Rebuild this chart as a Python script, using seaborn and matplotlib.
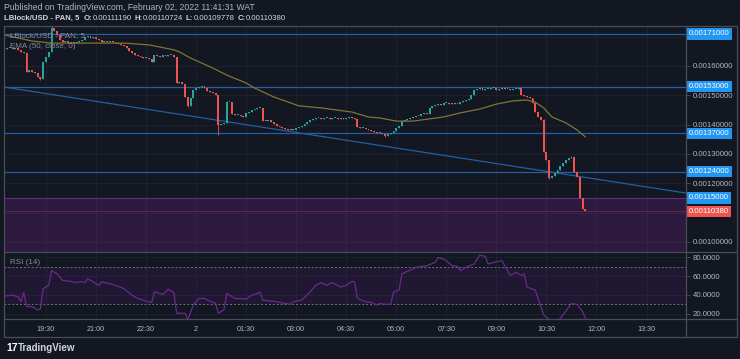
import numpy as np
import matplotlib
matplotlib.use("Agg")
import matplotlib.pyplot as plt
from matplotlib.lines import Line2D
from matplotlib.transforms import blended_transform_factory
import seaborn as sns

# 5-minute LBlock/USD candles from 18:15 to 11:40, closes in units of 1e-6
close_e6 = [
    1658, 1661, 1661, 1658, 1661, 1655, 1648, 1644, 1580, 1586,
    1580, 1576, 1562, 1556, 1614, 1631, 1648, 1730, 1719, 1706,
    1689, 1682, 1685, 1678, 1682, 1678, 1682, 1685, 1689, 1699,
    1702, 1695, 1699, 1692, 1689, 1682, 1685, 1682, 1685, 1682,
    1678, 1675, 1672, 1668, 1661, 1651, 1644, 1637, 1634, 1631,
    1627, 1627, 1624, 1614, 1637, 1634, 1631, 1637, 1634, 1637,
    1637, 1631, 1542, 1545, 1539, 1494, 1464, 1491, 1518, 1525,
    1528, 1532, 1525, 1515, 1511, 1508, 1501, 1399, 1402, 1406,
    1477, 1477, 1436, 1433, 1433, 1429, 1426, 1440, 1443, 1450,
    1453, 1457, 1457, 1412, 1412, 1416, 1409, 1402, 1395, 1392,
    1389, 1385, 1382, 1385, 1382, 1389, 1392, 1395, 1402, 1409,
    1416, 1419, 1423, 1423, 1419, 1423, 1423, 1419, 1423, 1423,
    1419, 1423, 1419, 1423, 1426, 1423, 1419, 1392, 1389, 1389,
    1385, 1382, 1378, 1375, 1372, 1372, 1368, 1361, 1368, 1372,
    1378, 1389, 1395, 1412, 1416, 1419, 1423, 1426, 1429, 1429,
    1436, 1440, 1436, 1457, 1464, 1467, 1470, 1467, 1474, 1474,
    1470, 1474, 1470, 1470, 1477, 1481, 1484, 1487, 1501, 1518,
    1522, 1525, 1518, 1522, 1522, 1525, 1525, 1518, 1522, 1525,
    1522, 1522, 1518, 1522, 1522, 1525, 1501, 1498, 1494, 1491,
    1474, 1443, 1426, 1416, 1307, 1279, 1218, 1225, 1235, 1245,
    1259, 1269, 1279, 1286, 1290, 1239, 1221, 1150, 1112, 1103.8,
]
first_open_e6 = 1655
wick_high_e6 = {17: 1737, 8: 1648, 80: 1481, 194: 1420, 204: 1294}
wick_low_e6 = {13: 1553, 66: 1460, 77: 1365, 137: 1358, 196: 1214}

# EMA(50)
ema_bar = [0, 10, 17, 43, 52, 61, 63, 67, 75, 80, 87, 90, 97, 106, 114, 125, 131,
           135, 141, 147, 158, 164, 171, 177, 183, 188, 191, 194, 197, 202, 206, 209]
ema_e6 = [1706, 1685, 1678, 1678, 1672, 1655, 1648, 1627, 1593, 1569, 1542, 1525,
          1494, 1464, 1457, 1443, 1426, 1423, 1412, 1412, 1426, 1440, 1453, 1470,
          1481, 1484, 1477, 1457, 1426, 1406, 1382, 1358]

# RSI(14)
rsi_bar = [0, 3, 5, 6, 7, 8, 10, 12, 13, 14, 16, 17, 19, 21, 24, 26, 28, 29, 30, 32,
           34, 35, 38, 40, 43, 46, 48, 51, 53, 54, 55, 57, 59, 61, 62, 65, 66, 68, 70, 72,
           74, 76, 77, 79, 80, 83, 87, 89, 91, 92, 93, 98, 101, 103, 104, 107, 110, 112, 114, 116,
           118, 121, 123, 125, 126, 127, 130, 132, 134, 135, 137, 139, 140, 142, 143, 147, 148, 152, 155, 156,
           158, 159, 161, 163, 164, 166, 169, 171, 173, 174, 177, 179, 180, 182, 184, 186, 187, 188, 191, 192,
           194, 196, 198, 201, 204, 206, 208, 209]
rsi_val = [38.9, 39.7, 38.0, 32.8, 42.5, 27.6, 27.6, 24.1, 25.1, 46.7, 50.2, 65.8, 62.3, 55.4, 54.3, 53.0, 54.3, 53.0, 57.1, 53.7,
           50.2, 53.7, 51.9, 50.2, 46.7, 39.7, 36.3, 33.5, 32.1, 43.2, 42.5, 40.4, 46.0, 42.5, 20.6, 20.6, 13.7, 29.3, 36.3, 36.3,
           33.5, 31.0, 20.6, 24.1, 41.5, 36.3, 35.6, 39.7, 41.5, 43.2, 34.5, 32.8, 31.0, 30.0, 32.8, 34.5, 43.2, 50.2, 53.0, 50.2,
           53.0, 48.4, 50.2, 54.3, 53.7, 36.3, 32.8, 32.1, 29.3, 31.0, 30.0, 30.0, 43.2, 45.0, 62.3, 67.6, 69.3, 71.0, 74.5, 79.7,
           78.0, 76.3, 71.0, 70.3, 65.8, 69.3, 72.8, 82.2, 80.8, 72.8, 75.2, 76.3, 71.0, 60.6, 64.1, 60.6, 62.3, 48.4, 45.0, 36.3,
           18.9, 13.7, 8.0, 18.9, 31.0, 30.0, 22.4, 15.4]

levels = [0.00171, 0.00153, 0.00137, 0.00124]
zone_top = 0.00115
trend_bar = [0, 245]
trend_price = [0.001528, 0.001167]
last_price = 0.0011038

time_bar = [15, 33, 51, 69, 87, 105, 123, 141, 159, 177, 195, 213, 231]
time_labels = ["19:30", "21:00", "22:30", "2", "01:30", "03:00", "04:30",
               "06:00", "07:30", "09:00", "10:30", "12:00", "13:30"]
price_ticks = [0.0010, 0.0011, 0.0012, 0.0013, 0.0014, 0.0015, 0.0016, 0.0017]
price_shown = [0.0010, 0.0012, 0.0013, 0.0014, 0.0015, 0.0016]
rsi_ticks = [20, 40, 60, 80]

BG = "#131722"
GRID = "#1e222d"
FRAME = "#4a4e59"
TXT = "#b2b5be"
UP = "#26a69a"
DOWN = "#ef5350"
LEVEL = "#2160a3"

sns.set_theme(style="dark", rc={"axes.facecolor": BG, "figure.facecolor": BG,
                                "axes.edgecolor": BG, "grid.color": GRID})
plt.rcParams["font.family"] = ["Liberation Sans", "DejaVu Sans"]

W, H = 740, 359
fig = plt.figure(figsize=(W / 100, H / 100), dpi=100)


def fx(px):
    return px / W


def fy(py):
    return 1 - py / H


ax = fig.add_axes([fx(4), fy(252), fx(682), (252 - 26) / H])
axr = fig.add_axes([fx(4), fy(319), fx(682), (319 - 252) / H], sharex=ax)

# candles
close = np.array(close_e6) * 1e-6
open_ = np.concatenate([[first_open_e6 * 1e-6], close[:-1]])
high = np.maximum(open_, close)
low = np.minimum(open_, close)
for k, v in wick_high_e6.items():
    high[k] = max(high[k], v * 1e-6)
for k, v in wick_low_e6.items():
    low[k] = min(low[k], v * 1e-6)
idx = np.arange(len(close))
cols = np.where(close >= open_, UP, DOWN)

# grid
for t in time_bar:
    ax.axvline(t, color=GRID, lw=0.7, zorder=0)
    axr.axvline(t, color=GRID, lw=0.7, zorder=0)
for p in price_ticks:
    ax.axhline(p, color=GRID, lw=0.7, zorder=0)

ax.axhspan(0.0009, zone_top, color="#9c27b0", alpha=0.2, lw=0, zorder=1)
ax.axhline(zone_top, color="#6a2a8a", lw=0.8, zorder=1)
for lv in levels:
    ax.axhline(lv, color=LEVEL, lw=0.9, zorder=2)
ax.plot(trend_bar, trend_price, color=LEVEL, lw=0.9, zorder=2)
ax.axhline(last_price, color=DOWN, lw=0.5, alpha=0.35, zorder=2)

ax.vlines(idx, low, high, colors=cols, lw=0.6, zorder=3)
body = np.maximum(np.abs(close - open_), 2.4e-6)
ax.bar(idx, body, bottom=np.minimum(open_, close), width=0.68, color=cols,
       linewidth=0, zorder=4)

sns.lineplot(x=ema_bar, y=np.array(ema_e6) * 1e-6, ax=ax, color="#7f7536",
             lw=0.9, zorder=5)

ax.set_xlim(-0.1, 245.2)
ax.set_ylim(0.0009657, 0.0017363)
ax.yaxis.tick_right()
ax.set_yticks(price_ticks)
ax.set_yticklabels(["%.8f" % p if p in price_shown else "" for p in price_ticks])
ax.tick_params(axis="y", length=3, width=0.6, color=FRAME, pad=2,
               labelsize=5.6, labelcolor=TXT)
ax.tick_params(axis="x", bottom=False, labelbottom=False)
ax.set_xlabel("")
ax.set_ylabel("")

trans = blended_transform_factory(ax.transAxes, ax.transData)
for lv in levels + [zone_top]:
    ax.text(1.004, lv, "%.8f" % lv, transform=trans, ha="left", va="center",
            fontsize=5.6, color="white", zorder=10, clip_on=False,
            bbox=dict(boxstyle="square,pad=0.3", fc="#2196f3", ec="none"))
ax.text(1.004, last_price, "%.8f" % last_price, transform=trans, ha="left",
        va="center", fontsize=5.6, color="white", zorder=10, clip_on=False,
        bbox=dict(boxstyle="square,pad=0.3", fc=DOWN, ec="none"))

fig.text(fx(10), fy(36), "LBlock/USD - PAN, 5", fontsize=5.8, color="#8a8d96",
         va="center")
fig.text(fx(10), fy(47), "EMA (50, close, 0)", fontsize=5.8, color="#8a8d96",
         va="center")

# RSI pane
axr.axhspan(30, 70, color="#7b1fa2", alpha=0.13, lw=0, zorder=1)
for g in rsi_ticks:
    axr.axhline(g, color=GRID, lw=0.6, zorder=0)
for g in [30, 70]:
    axr.axhline(g, color="#70737d", lw=0.7, ls=(0, (2, 2)), zorder=2)
sns.lineplot(x=rsi_bar, y=rsi_val, ax=axr, color="#6a2a8c", lw=0.9, zorder=3)
axr.set_ylim(14.5, 85.5)
axr.yaxis.tick_right()
axr.set_yticks(rsi_ticks)
axr.set_yticklabels(["%.4f" % v for v in rsi_ticks])
axr.tick_params(axis="y", length=3, width=0.6, color=FRAME, pad=2,
                labelsize=5.6, labelcolor=TXT)
axr.set_xticks(time_bar)
axr.set_xticklabels(time_labels)
axr.tick_params(axis="x", length=0, pad=5, labelsize=5.2, labelcolor=TXT)
axr.set_xlabel("")
axr.set_ylabel("")
fig.text(fx(10), fy(263), "RSI (14)", fontsize=5.8, color="#8a8d96", va="center")

for a in (ax, axr):
    for s in a.spines.values():
        s.set_visible(False)

# panel frame
frame_lines = [
    ((4, 737), (26, 26)), ((4, 737), (252, 252)), ((4, 737), (319, 319)),
    ((4, 737), (337, 337)), ((4, 4), (26, 337)), ((737, 737), (26, 337)),
    ((686, 686), (26, 337)),
]
for xs, ys in frame_lines:
    fig.add_artist(Line2D([fx(x) for x in xs], [fy(y) for y in ys],
                          color=FRAME, lw=0.9))

# header
fig.text(fx(4), fy(7), "Published on TradingView.com, February 02, 2022 11:41:31 WAT",
         fontsize=6.2, color=TXT, va="center")
pieces = [
    ("LBlock/USD - PAN, 5", "bold", 4), ("O:", "bold", 0.5), ("0.00111190", "normal", 2.5),
    ("H:", "bold", 0.5), ("0.00110724", "normal", 2.5), ("L:", "bold", 0.5),
    ("0.00109778", "normal", 2.5), ("C:", "bold", 0.5), ("0.00110380", "normal", 0),
]
renderer = fig.canvas.get_renderer()
xpos = 4
for s, w, gap in pieces:
    t = fig.text(fx(xpos), fy(18), s, fontsize=5.6, color="#d1d4dc", weight=w,
                 va="center")
    bb = t.get_window_extent(renderer)
    xpos = bb.x1 + gap

fig.text(fx(6), fy(348), "17", fontsize=7.5, color="white", weight="heavy", va="center")
fig.text(fx(18), fy(348), "TradingView", fontsize=7, color="#d1d4dc", weight="bold",
         va="center")

fig.savefig("out.png", dpi=100, facecolor=BG)
